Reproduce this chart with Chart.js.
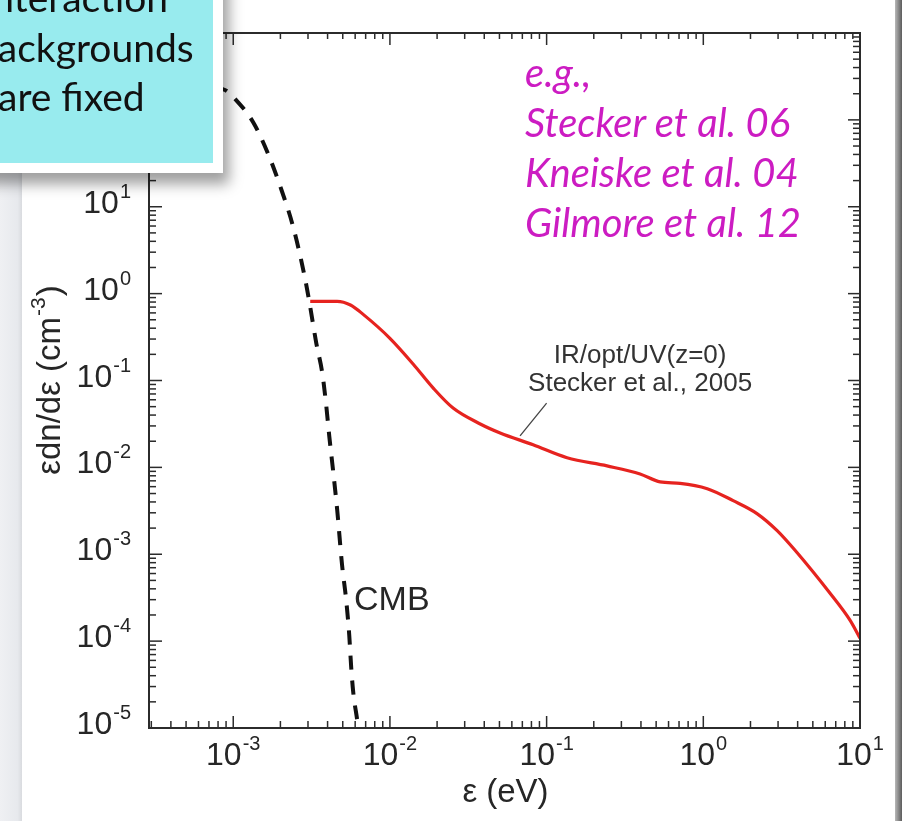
<!DOCTYPE html>
<html>
<head>
<meta charset="utf-8">
<title>Photon backgrounds</title>
<style>
  body { margin: 0; width: 902px; height: 821px; position: relative; overflow: hidden; background: #fff; font-family: "Liberation Sans", Arial, sans-serif; }
  #leftStrip { position: absolute; left: 0; top: 0; width: 22px; height: 821px; background: linear-gradient(to right, #eff0f3, #e7e9ed 80%, #d9dbdf); }
  #rightStrip { position: absolute; left: 895px; top: 0; width: 7px; height: 821px; background: linear-gradient(to right, #b8b8b8, #5c5c5c); }
  #plot { position: absolute; left: 0; top: 0; z-index: 1; }
  #note { position: absolute; left: -30px; top: -30px; width: 233px; height: 183px; background: #98ebee; border: 10px solid #fff; box-shadow: 6px 11px 13px rgba(0,0,0,0.38); z-index: 2; font-family: Lato, sans-serif; font-size: 39px; color: #111; }
  #note div { position: absolute; white-space: nowrap; line-height: 50px; }
  #refs { position: absolute; left: 525px; top: 47px; z-index: 2; font-family: Lato, sans-serif; font-style: italic; font-size: 40px; line-height: 50px; color: #cc1cc2; white-space: nowrap; }
</style>
</head>
<body>
<div id="leftStrip"></div>
<div id="rightStrip"></div>
<canvas id="plot" width="902" height="821"></canvas>
<div id="note">
  <div style="left: 3px; top: -8px;">interaction</div>
  <div style="left: -4px; top: 42px;">backgrounds</div>
  <div style="left: 18px; top: 91px;">are fixed</div>
</div>
<div id="refs">e.g.,<br>Stecker et al. 06<br>Kneiske et al. 04<br>Gilmore et al. 12</div>

<script src="https://cdn.jsdelivr.net/npm/chart.js"></script>
<script>
// CMB photon density (dashed curve), eV vs cm^-3
var cmbE = [7.5e-4, 8.9e-4, 1.03e-3, 1.34e-3, 1.67e-3, 1.99e-3, 2.41e-3, 2.88e-3, 3.10e-3, 3.39e-3, 3.70e-3, 3.92e-3, 4.10e-3, 4.34e-3, 4.61e-3, 4.95e-3, 5.26e-3, 5.50e-3, 5.66e-3, 5.83e-3, 6.18e-3, 6.28e-3];
var cmbN = [235, 220, 173, 94, 40.6, 17.4, 5.9, 1.46, 0.70, 0.268, 0.122, 0.052, 0.023, 9.1e-3, 3.2e-3, 7.5e-4, 2.95e-4, 1.17e-4, 5.0e-5, 2.6e-5, 1.24e-5, 1.0e-5];

// IR/opt/UV (z=0), Stecker et al. 2005 (red curve)
var eblE = [3.1e-3, 4.6e-3, 5.6e-3, 6.75e-3, 1.0e-2, 1.41e-2, 1.89e-2, 2.53e-2, 3.77e-2, 5.05e-2, 8.2e-2, 0.135, 0.243, 0.395, 0.53, 0.711, 1.06, 1.55, 2.2, 2.96, 3.85, 6.44, 8.63, 10];
var eblN = [0.815, 0.815, 0.74, 0.577, 0.306, 0.154, 0.0818, 0.0482, 0.0316, 0.0249, 0.0182, 0.0129, 0.0104, 8.4e-3, 6.8e-3, 6.55e-3, 5.69e-3, 4.14e-3, 2.94e-3, 1.87e-3, 1.11e-3, 3.55e-4, 1.74e-4, 1.08e-4];

// axes
var xMin = 2.9e-4, xMax = 10;
var yMin = 1e-5, yMax = 1e3;
var xMajor = [1e-3, 1e-2, 1e-1, 1, 10];
var xExp = ["-3", "-2", "-1", "0", "1"];
var yMajor = [1e-5, 1e-4, 1e-3, 1e-2, 1e-1, 1, 10, 100];
var yExp = ["-5", "-4", "-3", "-2", "-1", "0", "1", "2"];
var minorSteps = [2, 3, 4, 5, 6, 7, 8, 9];

// annotation anchors in data coordinates
var eblLabel = ["IR/opt/UV(z=0)", "Stecker et al., 2005"];
var eblLabelAt = [0.395, 0.19, 0.091];   // x, y of line 1, y of line 2
var leader = [[0.1, 0.055], [0.0677, 0.023]];
var cmbLabelAt = [5.9e-3, 2.95e-4];

var FONT = "'Liberation Sans', Arial, sans-serif";

function pts(xs, ys) {
    var out = [];
    for (let i = 0; i < xs.length; i++) out.push({ x: xs[i], y: ys[i] });
    return out;
}

function drawPow(ctx, exp, x, base, align) {
    ctx.font = "32px " + FONT;
    var w1 = ctx.measureText("10").width;
    ctx.font = "20px " + FONT;
    var w2 = ctx.measureText(exp).width;
    var total = w1 + 1 + w2;
    var start = align === "center" ? x - total / 2 : x - total;
    ctx.textAlign = "left";
    ctx.textBaseline = "alphabetic";
    ctx.font = "32px " + FONT;
    ctx.fillText("10", start, base);
    ctx.font = "20px " + FONT;
    ctx.fillText(exp, start + w1 + 1, base - 15);
}

function minorList(lo, hi) {
    var out = [];
    for (let d = 1e-6; d < hi; d *= 10) {
        minorSteps.forEach(k => {
            var v = d * k;
            if (v > lo && v < hi) out.push(v);
        });
    }
    return out;
}

var framePlugin = {
    id: "frame",
    afterDatasetsDraw(chart) {
        var ctx = chart.ctx, a = chart.chartArea;
        var xs = chart.scales.x, ys = chart.scales.y;
        ctx.save();
        ctx.strokeStyle = "#2b2b2b";
        ctx.fillStyle = "#262626";
        ctx.lineWidth = 1.5;
        var tick = (x1, y1, x2, y2) => { ctx.beginPath(); ctx.moveTo(x1, y1); ctx.lineTo(x2, y2); ctx.stroke(); };
        // x ticks, bottom and top
        xMajor.forEach(v => { var p = xs.getPixelForValue(v); tick(p, a.bottom, p, a.bottom - 12); tick(p, a.top, p, a.top + 12); });
        minorList(xMin, xMax).forEach(v => { var p = xs.getPixelForValue(v); tick(p, a.bottom, p, a.bottom - 7); tick(p, a.top, p, a.top + 6); });
        // y ticks, left and right
        yMajor.forEach(v => { var p = ys.getPixelForValue(v); tick(a.left, p, a.left + 13, p); tick(a.right, p, a.right - 12, p); });
        minorList(yMin, yMax).forEach(v => { var p = ys.getPixelForValue(v); tick(a.left, p, a.left + 7, p); tick(a.right, p, a.right - 7, p); });
        // frame
        ctx.lineWidth = 2;
        ctx.strokeRect(a.left, a.top, a.right - a.left, a.bottom - a.top);

        // tick labels
        xMajor.forEach((v, i) => drawPow(ctx, xExp[i], xs.getPixelForValue(v), a.bottom + 37, "center"));
        yMajor.forEach((v, i) => drawPow(ctx, yExp[i], a.left - 18, ys.getPixelForValue(v) + 6, "right"));

        // axis titles
        ctx.font = "33px " + FONT;
        ctx.textAlign = "center";
        ctx.fillText("\u03b5 (eV)", (a.left + a.right) / 2 + 1, a.bottom + 74);

        ctx.save();
        ctx.translate(60, 380);
        ctx.rotate(-Math.PI / 2);
        ctx.font = "33px " + FONT;
        var t1 = "\u03b5dn/d\u03b5 (cm", t3 = ")";
        var w1 = ctx.measureText(t1).width, w3 = ctx.measureText(t3).width;
        ctx.font = "21px " + FONT;
        var w2 = ctx.measureText("-3").width;
        var st = -(w1 + w2 + w3 + 2) / 2;
        ctx.textAlign = "left";
        ctx.font = "33px " + FONT;
        ctx.fillText(t1, st, 0);
        ctx.fillText(t3, st + w1 + w2 + 2, 0);
        ctx.font = "21px " + FONT;
        ctx.fillText("-3", st + w1 + 1, -15);
        ctx.restore();

        // curve labels
        ctx.fillStyle = "#333";
        ctx.font = "26px " + FONT;
        ctx.textAlign = "center";
        ctx.textBaseline = "middle";
        ctx.fillText(eblLabel[0], xs.getPixelForValue(eblLabelAt[0]), ys.getPixelForValue(eblLabelAt[1]));
        ctx.fillText(eblLabel[1], xs.getPixelForValue(eblLabelAt[0]), ys.getPixelForValue(eblLabelAt[2]));
        ctx.strokeStyle = "#444";
        ctx.lineWidth = 1.3;
        tick(xs.getPixelForValue(leader[0][0]), ys.getPixelForValue(leader[0][1]), xs.getPixelForValue(leader[1][0]), ys.getPixelForValue(leader[1][1]));

        ctx.fillStyle = "#262626";
        ctx.font = "34px " + FONT;
        ctx.textAlign = "left";
        ctx.fillText("CMB", xs.getPixelForValue(cmbLabelAt[0]), ys.getPixelForValue(cmbLabelAt[1]));
        ctx.restore();
    }
};

new Chart(document.getElementById("plot"), {
    type: "scatter",
    data: {
        datasets: [{
            label: "CMB",
            data: pts(cmbE, cmbN),
            showLine: true,
            borderColor: "#111",
            borderWidth: 4,
            borderDash: [14, 11],
            pointRadius: 0,
            cubicInterpolationMode: "monotone",
            fill: false
        }, {
            label: "IR/opt/UV(z=0)",
            data: pts(eblE, eblN),
            showLine: true,
            borderColor: "#e6231f",
            borderWidth: 3.2,
            pointRadius: 0,
            cubicInterpolationMode: "monotone",
            fill: false
        }]
    },
    options: {
        responsive: false,
        animation: false,
        layout: { padding: { left: 149, right: 42, top: 33, bottom: 93 } },
        scales: {
            x: { type: "logarithmic", min: xMin, max: xMax, display: false },
            y: { type: "logarithmic", min: yMin, max: yMax, display: false }
        },
        plugins: {
            legend: { display: false },
            tooltip: { enabled: false }
        }
    },
    plugins: [framePlugin]
});
</script>
</body>
</html>
